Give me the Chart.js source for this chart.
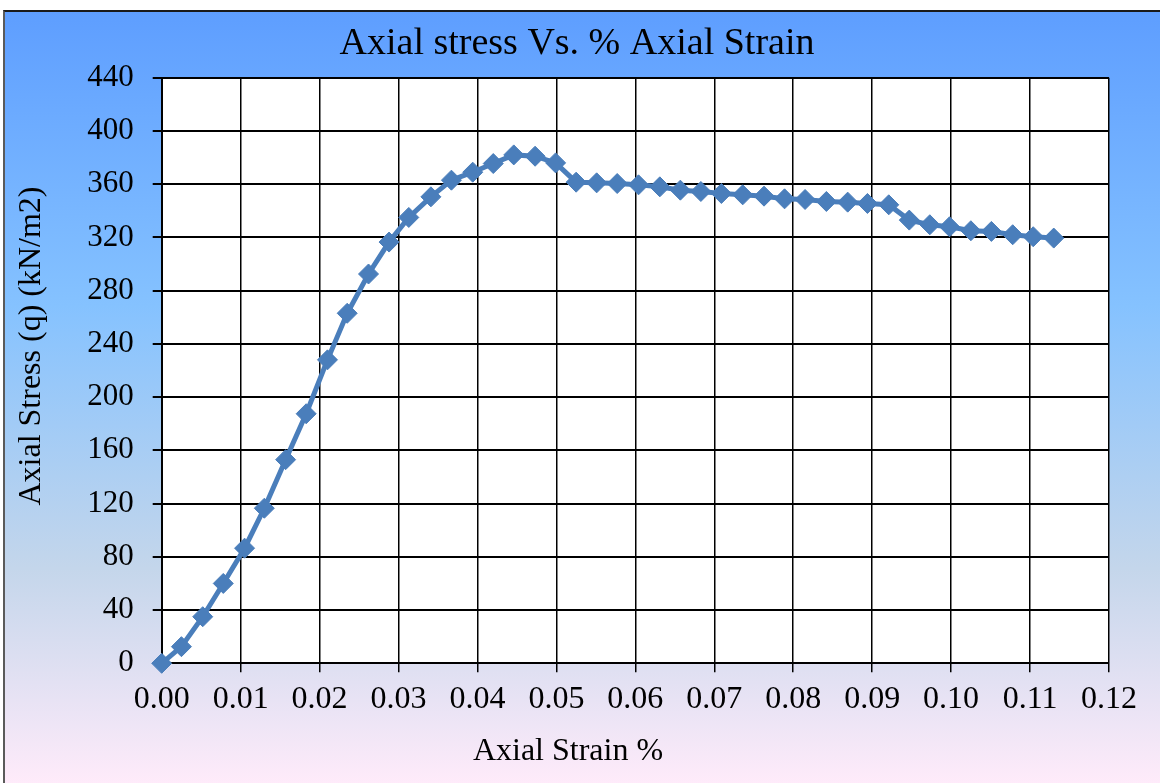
<!DOCTYPE html>
<html>
<head>
<meta charset="utf-8">
<script src="https://cdn.jsdelivr.net/npm/chart.js@4.4.1/dist/chart.umd.min.js"></script>
<style>
  html, body { margin: 0; padding: 0; width: 1160px; height: 783px; overflow: hidden; background: #ffffff; }
  #panel {
    position: absolute; left: 3px; top: 10px; width: 1180px; height: 773px;
    border-left: 2px solid #5a5a5a; border-top: 2px solid #1a1a1a;
    background: linear-gradient(to bottom, #5E9EFF 0%, #85C2FF 38%, #C4D6EB 72%, #FFEBFA 100%);
  }
  #c { position: absolute; left: 0; top: 0; }
</style>
</head>
<body>
<div id="panel"></div>
<canvas id="c" width="1160" height="783"></canvas>
<script>
// Triaxial test: deviator stress against axial strain
const strain = [0, 0.0025, 0.0052, 0.0078, 0.0105, 0.0130, 0.0157, 0.0183, 0.0210, 0.0235,
  0.0262, 0.0288, 0.0313, 0.0341, 0.0367, 0.0394, 0.0420, 0.0446, 0.0473, 0.0499,
  0.0525, 0.0551, 0.0577, 0.0604, 0.0631, 0.0657, 0.0683, 0.0709, 0.0736, 0.0763,
  0.0789, 0.0815, 0.0842, 0.0869, 0.0894, 0.0921, 0.0947, 0.0973, 0.0998, 0.1025,
  0.1051, 0.1078, 0.1104, 0.1130];
const stress = [0, 12.5, 35, 60, 86.5, 116.5, 153, 187.5, 228, 263,
  292.5, 316.5, 335, 350.5, 363, 369, 375.5, 382, 381, 376,
  361.5, 361, 360.5, 359.5, 358, 355.5, 354.5, 353, 352, 351,
  349, 348.5, 347, 346.5, 345.5, 344.5, 333, 329.5, 328, 325,
  324.5, 322, 320.5, 319.5];

const xTicks = [0, 0.01, 0.02, 0.03, 0.04, 0.05, 0.06, 0.07, 0.08, 0.09, 0.10, 0.11, 0.12];
const yTicks = [0, 40, 80, 120, 160, 200, 240, 280, 320, 360, 400, 440];

const chartTitle = 'Axial stress Vs. % Axial Strain';
const xTitle = 'Axial Strain %';
const yTitle = 'Axial Stress (q) (kN/m2)';

const serif = "'Times New Roman', 'Liberation Serif', 'DejaVu Serif', serif";
const lineBlue = '#4A7EBB';

// white plot area on top of the gradient panel
const plotBackground = {
  id: 'plotBackground',
  beforeDraw(chart) {
    const { ctx, chartArea: a } = chart;
    ctx.save();
    ctx.fillStyle = '#ffffff';
    ctx.fillRect(a.left, a.top, a.right - a.left, a.bottom - a.top);
    ctx.restore();
  }
};

// chart title and axis captions, placed relative to the whole chart object
const captions = {
  id: 'captions',
  afterDraw(chart) {
    const ctx = chart.ctx;
    ctx.save();
    ctx.fillStyle = '#000000';
    ctx.textAlign = 'center';
    ctx.textBaseline = 'middle';
    ctx.font = '38px ' + serif;
    ctx.fillText(chartTitle, 577, 44);
    ctx.font = '32px ' + serif;
    ctx.fillText(xTitle, 568, 752);
    ctx.translate(32, 346);
    ctx.rotate(-Math.PI / 2);
    ctx.fillText(yTitle, 0, 0);
    ctx.restore();
  }
};

new Chart(document.getElementById('c'), {
  type: 'line',
  data: {
    datasets: [{
      label: 'q',
      data: strain.map((s, i) => ({ x: s, y: stress[i] })),
      borderColor: lineBlue,
      backgroundColor: lineBlue,
      borderWidth: 5,
      tension: 0,
      pointStyle: 'rectRot',
      pointRadius: 10,
      pointBorderWidth: 1,
      pointBorderColor: lineBlue,
      pointBackgroundColor: lineBlue,
      clip: false
    }]
  },
  options: {
    responsive: false,
    animation: false,
    devicePixelRatio: 1,
    layout: { padding: { left: 0, right: 51, top: 77.7, bottom: 0 } },
    plugins: {
      legend: { display: false },
      tooltip: { enabled: false },
      title: { display: false }
    },
    scales: {
      x: {
        type: 'linear',
        min: 0,
        max: 0.12,
        afterFit(scale) { scale.height = 119.7; },
        afterBuildTicks(scale) { scale.ticks = xTicks.map(v => ({ value: v })); },
        ticks: {
          autoSkip: false,
          maxRotation: 0,
          padding: 8,
          color: '#000000',
          font: { family: serif, size: 32 },
          callback: v => Number(v).toFixed(2)
        },
        grid: { color: '#000000', lineWidth: 1.5, tickLength: 9, drawTicks: true },
        border: { color: '#000000', width: 2 }
      },
      y: {
        min: 0,
        max: 440,
        afterFit(scale) { scale.width = 161.7; },
        afterBuildTicks(scale) { scale.ticks = yTicks.map(v => ({ value: v })); },
        ticks: {
          padding: 19,
          color: '#000000',
          font: { family: serif, size: 31 }
        },
        grid: { color: '#000000', lineWidth: 2, tickLength: 9, drawTicks: true },
        border: { color: '#000000', width: 2 }
      }
    }
  },
  plugins: [plotBackground, captions]
});
</script>
</body>
</html>
